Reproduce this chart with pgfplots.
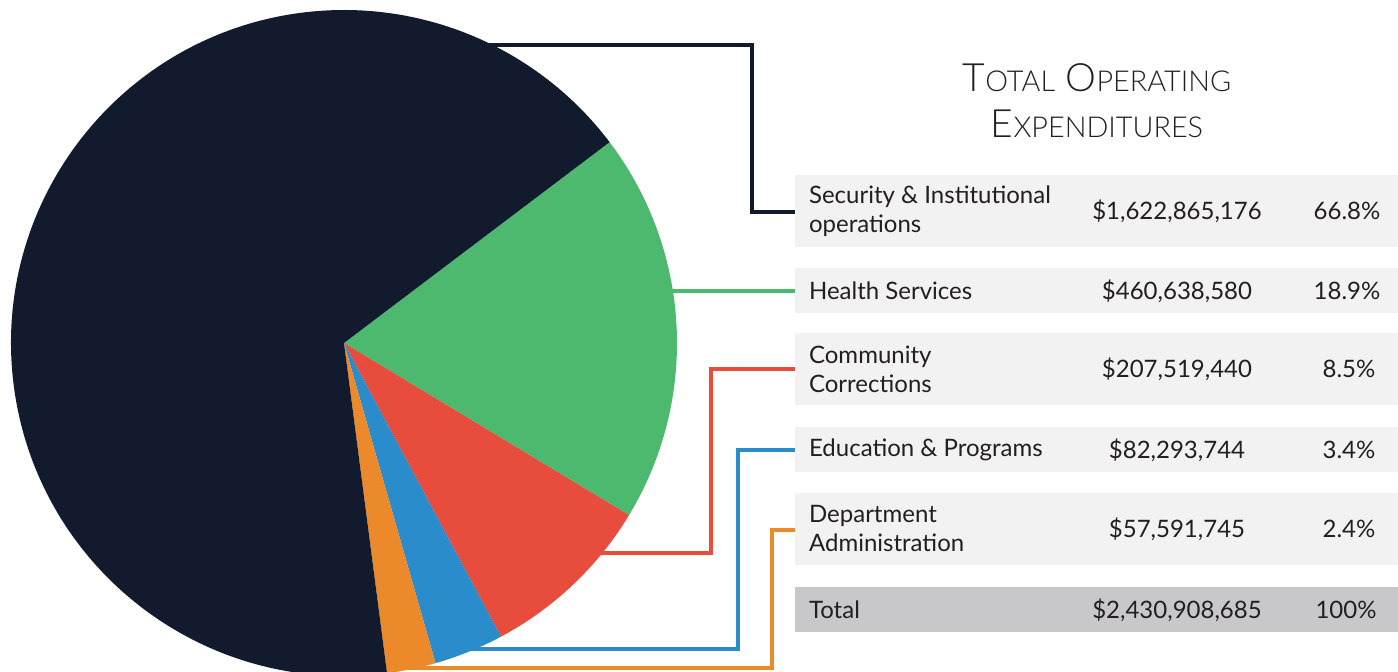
\documentclass[border=0pt]{standalone}
\usepackage{pgfplots}
\pgfplotsset{compat=1.18}
\usepackage{fontspec}
\setmainfont{Lato}
\newfontfamily\lightfont{Lato Light}

\definecolor{cnavy}{HTML}{121A2E}
\definecolor{cgreen}{HTML}{4CB96F}
\definecolor{cred}{HTML}{E84C3D}
\definecolor{cblue}{HTML}{2A8CCB}
\definecolor{corange}{HTML}{EC8A2B}
\definecolor{rowbg}{HTML}{F2F2F2}
\definecolor{totbg}{HTML}{C8C8CA}
\definecolor{txt}{HTML}{231F20}

% expenditures in millions of dollars
\def\vSec{1622.865176}
\def\vHea{460.638580}
\def\vCom{207.519440}
\def\vEdu{82.293744}
\def\vDep{57.591745}

% slice angles, clockwise from the navy/green edge
\pgfmathsetmacro\tot{\vSec+\vHea+\vCom+\vEdu+\vDep}
\pgfmathsetmacro\aA{37.1}
\pgfmathsetmacro\aB{\aA-\vHea/\tot*360}
\pgfmathsetmacro\aC{\aB-\vCom/\tot*360}
\pgfmathsetmacro\aD{\aC-\vEdu/\tot*360}
\pgfmathsetmacro\aE{\aD-\vDep/\tot*360}
\pgfmathsetmacro\aF{\aA-360}

\begin{document}
\begin{tikzpicture}[font=\fontsize{12}{14.5}\selectfont, text=txt]
\begin{axis}[
    x=0.5pt, y=0.5pt,
    xmin=0, xmax=1398, ymin=0, ymax=672,
    hide axis, clip=true,
]
\path (axis cs:0,0) rectangle (axis cs:1398,672);

% leader lines
\addplot[cnavy, line width=1.9pt] coordinates {(440,627) (752,627) (752,460) (795,460)};
\addplot[cgreen, line width=1.6pt] coordinates {(640,381) (795,381)};
\addplot[cred, line width=1.6pt] coordinates {(580,119) (711,119) (711,303) (795,303)};
\addplot[cblue, line width=1.6pt] coordinates {(450,23) (738,23) (738,222) (795,222)};
\addplot[corange, line width=1.6pt] coordinates {(390,4) (772,4) (772,142) (795,142)};

% pie (cut off by the picture's lower edge)
\begin{scope}[overlay]
\clip (axis cs:0,0) rectangle (axis cs:1398,672);
\fill[cgreen] (axis cs:344,329) -- ++(\aA:166.5pt) arc[start angle=\aA, end angle=\aB, radius=166.5pt] -- cycle;
\fill[cred] (axis cs:344,329) -- ++(\aB:166.5pt) arc[start angle=\aB, end angle=\aC, radius=166.5pt] -- cycle;
\fill[cblue] (axis cs:344,329) -- ++(\aC:166.5pt) arc[start angle=\aC, end angle=\aD, radius=166.5pt] -- cycle;
\fill[corange] (axis cs:344,329) -- ++(\aD:166.5pt) arc[start angle=\aD, end angle=\aE, radius=166.5pt] -- cycle;
\fill[cnavy] (axis cs:344,329) -- ++(\aE:166.5pt) arc[start angle=\aE, end angle=\aF, radius=166.5pt] -- cycle;
\end{scope}

% table rows
\fill[rowbg] (axis cs:795,425) rectangle (axis cs:1398,497);
\fill[rowbg] (axis cs:795,359) rectangle (axis cs:1398,404);
\fill[rowbg] (axis cs:795,267) rectangle (axis cs:1398,339);
\fill[rowbg] (axis cs:795,200) rectangle (axis cs:1398,245);
\fill[rowbg] (axis cs:795,107) rectangle (axis cs:1398,179);
\fill[totbg] (axis cs:795,40) rectangle (axis cs:1398,85);

% title
\node[anchor=base, font=\lightfont\fontsize{19.5}{19.5}\selectfont] at (axis cs:1097,580)
  {T{\fontsize{14.4}{14.4}\selectfont OTAL} O{\fontsize{14.4}{14.4}\selectfont PERATING}};
\node[anchor=base, font=\lightfont\fontsize{19.5}{19.5}\selectfont] at (axis cs:1097,534)
  {E{\fontsize{14.4}{14.4}\selectfont XPENDITURES}};

% labels
\node[anchor=west, align=left] at (axis cs:802,461) {Security \& Institutional\\operations};
\node[anchor=west] at (axis cs:802,381) {Health Services};
\node[anchor=west, align=left] at (axis cs:802,303) {Community\\Corrections};
\node[anchor=west] at (axis cs:802,222) {Education \& Programs};
\node[anchor=west, align=left] at (axis cs:802,143) {Department\\Administration};
\node[anchor=west] at (axis cs:802,62) {Total};

% amounts
\node at (axis cs:1177,461) {\$1,622,865,176};
\node at (axis cs:1177,381) {\$460,638,580};
\node at (axis cs:1177,303) {\$207,519,440};
\node at (axis cs:1177,222) {\$82,293,744};
\node at (axis cs:1177,143) {\$57,591,745};
\node at (axis cs:1177,62) {\$2,430,908,685};

% shares
\node at (axis cs:1347,461) {66.8\%};
\node at (axis cs:1347,381) {18.9\%};
\node at (axis cs:1349,303) {8.5\%};
\node at (axis cs:1349,222) {3.4\%};
\node at (axis cs:1349,143) {2.4\%};
\node at (axis cs:1346,62) {100\%};
\end{axis}
\end{tikzpicture}
\end{document}
